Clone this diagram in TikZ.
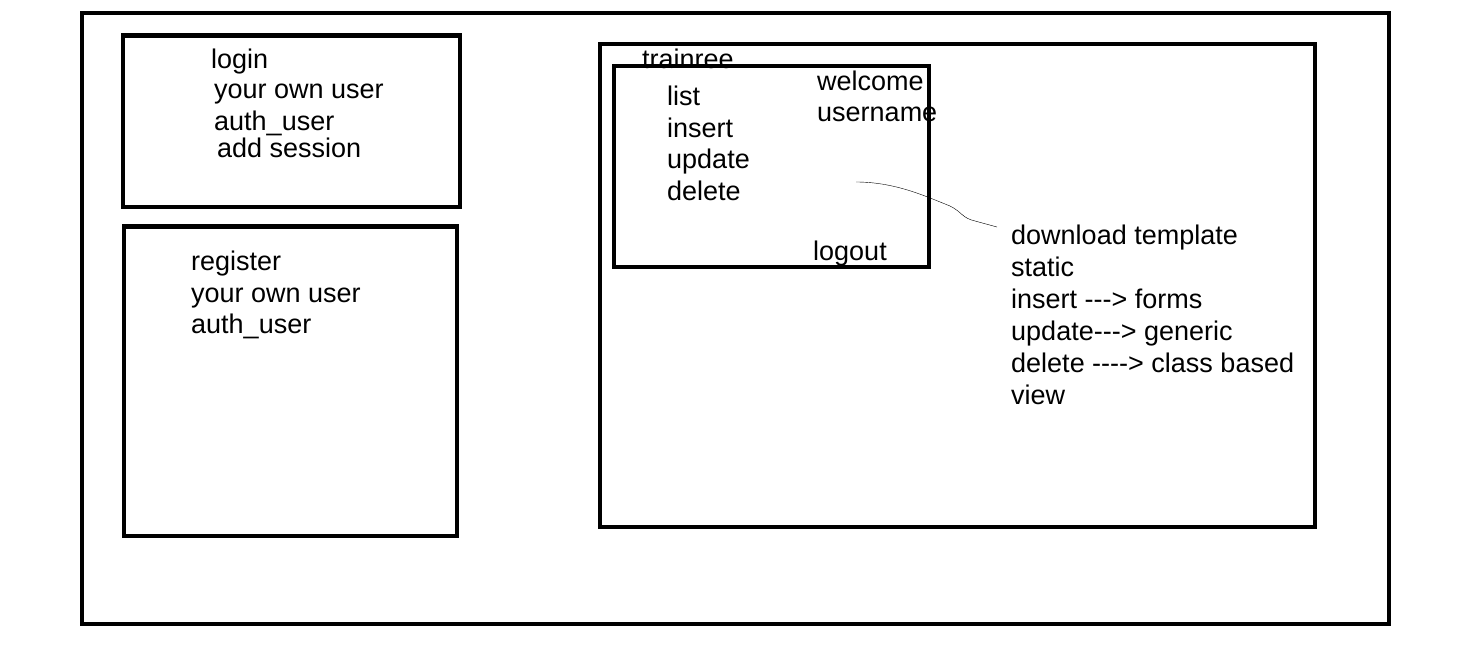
\documentclass[tikz,border=0pt]{standalone}
\usepackage{fontspec}
\setmainfont{Liberation Sans}
\usetikzlibrary{positioning}

\begin{document}
\begin{tikzpicture}[
        x = 1pt,
        y = -1pt,
        box/.style = {draw, line width = 4.5pt},
        txt/.style = {anchor = base west, inner sep = 0pt,
          font = \fontsize{27}{32}\selectfont},
        note/.style = {draw, thin}]

      \useasboundingbox (0,0) rectangle (1479,656);

      %frame
      \draw[box] (82,13) rectangle (1389,624);

      %login
      \draw[box] (123,35.5) rectangle (460,207);
      \node[txt] (LoginTitle) at (211,68) {login};
      \node[txt] (LoginUser) at (214,98) {your own user};
      \node[txt] (LoginAuth) at (214,130) {auth\_user};
      \node[txt] (LoginSession) at (217,157) {add session};

      %register
      \draw[box] (124,226.5) rectangle (457,536);
      \node[txt] (RegTitle) at (191,270) {register};
      \node[txt] (RegUser) at (191,302) {your own user};
      \node[txt] (RegAuth) at (191,333) {auth\_user};

      %trainree
      \draw[box] (600,44) rectangle (1315,527);
      \node[txt] (TrainTitle) at (642,68) {trainree};
      \draw[box] (614,66) rectangle (929,267);
      \node[txt] (TrainList) at (667,105) {list};
      \node[txt] (TrainInsert) at (667,137) {insert};
      \node[txt] (TrainUpdate) at (667,168) {update};
      \node[txt] (TrainDelete) at (667,200) {delete};
      \node[txt] (Welcome) at (817,90) {welcome};
      \node[txt] (Username) at (817,121) {username};
      \node[txt] (Logout) at (813,260) {logout};

      %notes
      \node[txt] (NoteDownload) at (1011,244) {download template};
      \node[txt] (NoteStatic) at (1011,276) {static};
      \node[txt] (NoteInsert) at (1011,308) {insert -{}-{}-> forms};
      \node[txt] (NoteUpdate) at (1011,340) {update-{}-{}-> generic};
      \node[txt] (NoteDelete) at (1011,372) {delete -{}-{}-{}-> class based};
      \node[txt] (NoteView) at (1011,404) {view};

      % line to notes
      \coordinate (LineStart) at (856,182);
      \coordinate (LineEnd) at (997,227);
      \draw[note] (LineStart) .. controls (895,182) and (925,196) .. (950,206)
        .. controls (962,212) and (962,218) .. (975,221) -- (LineEnd);
    \end{tikzpicture}
\end{document}
